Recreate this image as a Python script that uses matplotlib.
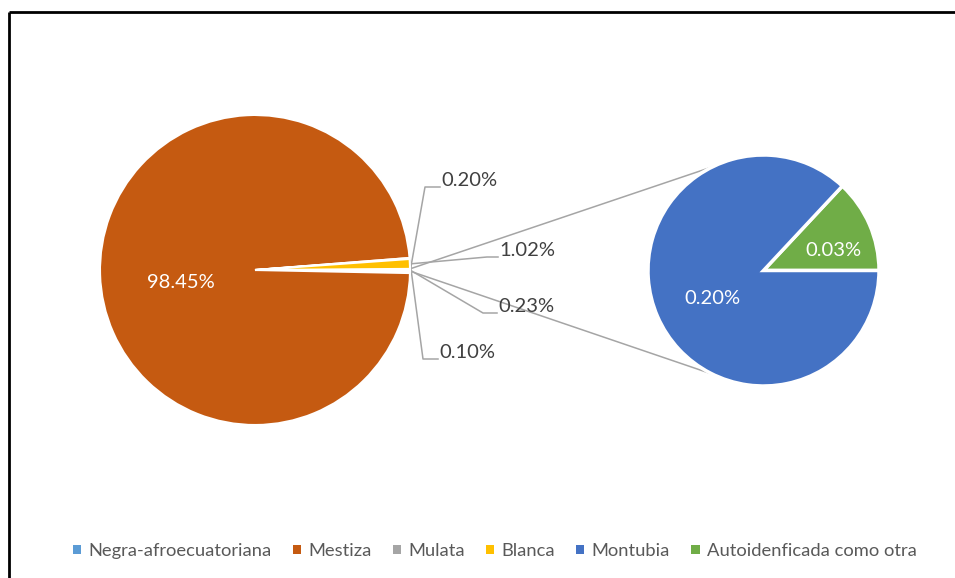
import numpy as np
import matplotlib.pyplot as plt
from matplotlib.patches import Patch

plt.rcParams['font.family'] = ['Lato', 'DejaVu Sans']

# Data
categorias = ['Negra-afroecuatoriana', 'Mestiza', 'Mulata', 'Blanca',
              'Montubia', 'Autoidenficada como otra']
valores = [0.20, 98.45, 0.10, 1.02, 0.20, 0.03]
colores = ['#5B9BD5', '#C55A11', '#A5A5A5', '#FFC000', '#4472C4', '#70AD47']

main_idx = [0, 1, 2, 3]     # slices shown in the first pie
second_idx = [4, 5]         # slices pulled into the second pie
otros = sum(valores[i] for i in second_idx)

W, H = 955, 578
fig = plt.figure(figsize=(W / 100, H / 100), dpi=100)
ax = fig.add_axes([0, 0, 1, 1])

c1, r1 = (255, H - 270), 155
c2, r2 = (763.5, H - 270.5), 115.5

# main pie: "other" slice first, centred on 3 o'clock, going clockwise
vals1 = [otros] + [valores[i] for i in main_idx]
cols1 = ['white'] + [colores[i] for i in main_idx]
half = otros / 100 * 360 / 2
w1, _ = ax.pie(vals1, colors=cols1, startangle=half, counterclock=False,
               center=c1, radius=r1, frame=True,
               wedgeprops=dict(edgecolor='white', linewidth=1.5))

# second pie
vals2 = [valores[5], valores[4]]
cols2 = [colores[5], colores[4]]
w2, _ = ax.pie(vals2, colors=cols2, startangle=0, counterclock=True,
               center=c2, radius=r2, frame=True,
               wedgeprops=dict(edgecolor='white', linewidth=2.5))
ax.set_xlim(0, W)
ax.set_ylim(0, H)
ax.set_aspect('auto')
ax.axis('off')

# connector lines
for a1, a2 in [(half, 116), (-half, -116)]:
    p1 = (c1[0] + r1 * np.cos(np.radians(a1)), c1[1] + r1 * np.sin(np.radians(a1)))
    p2 = (c2[0] + r2 * np.cos(np.radians(a2)), c2[1] + r2 * np.sin(np.radians(a2)))
    ax.plot([p1[0], p2[0]], [p1[1], p2[1]], color='#A5A5A5', lw=1.1, zorder=0)

def mid_point(w):
    a = np.radians((w.theta1 + w.theta2) / 2)
    return (w.center[0] + w.r * np.cos(a), w.center[1] + w.r * np.sin(a))

# outside labels with leader lines: (wedge, value, knee, end of line)
etiquetas = [
    (w1[1], valores[0], (425, H - 187), (440, H - 187)),
    (w1[4], valores[3], (487, H - 257), (498, H - 257)),
    (w1[0], otros, (483, H - 313), (497, H - 313)),
    (w1[3], valores[2], (423, H - 359), (438, H - 359)),
]
for w, v, knee, end in etiquetas:
    p = mid_point(w)
    ax.plot([p[0], knee[0], end[0]], [p[1], knee[1], end[1]],
            color='#A5A5A5', lw=1.1, zorder=0)
    ax.text(end[0] + 1, end[1] + 6, f'{v:.2f}%', fontsize=14.5,
            color='#404040', va='center', ha='left')

ax.text(181, H - 282, f'{valores[1]:.2f}%', fontsize=14.5, color='white',
        ha='center', va='center')
ax.text(712, H - 298, f'{valores[4]:.2f}%', fontsize=14.5, color='white',
        ha='center', va='center')
ax.text(833, H - 250, f'{valores[5]:.2f}%', fontsize=14.5, color='white',
        ha='center', va='center')

# border (top and left only)
ax.plot([9, W], [H - 12, H - 12], color='black', lw=2, solid_capstyle='butt')
ax.plot([9, 9], [0, H - 12], color='black', lw=2, solid_capstyle='butt')

handles = [Patch(facecolor=c, edgecolor='none') for c in colores]
fig.legend(handles, categorias, loc='center', bbox_to_anchor=(0.518, (H - 551) / H),
           ncol=6, frameon=False, fontsize=13.2, handlelength=0.45,
           handleheight=0.45, handletextpad=0.4, columnspacing=1.15,
           labelcolor='#595959')

fig.savefig('out.png', dpi=100)
